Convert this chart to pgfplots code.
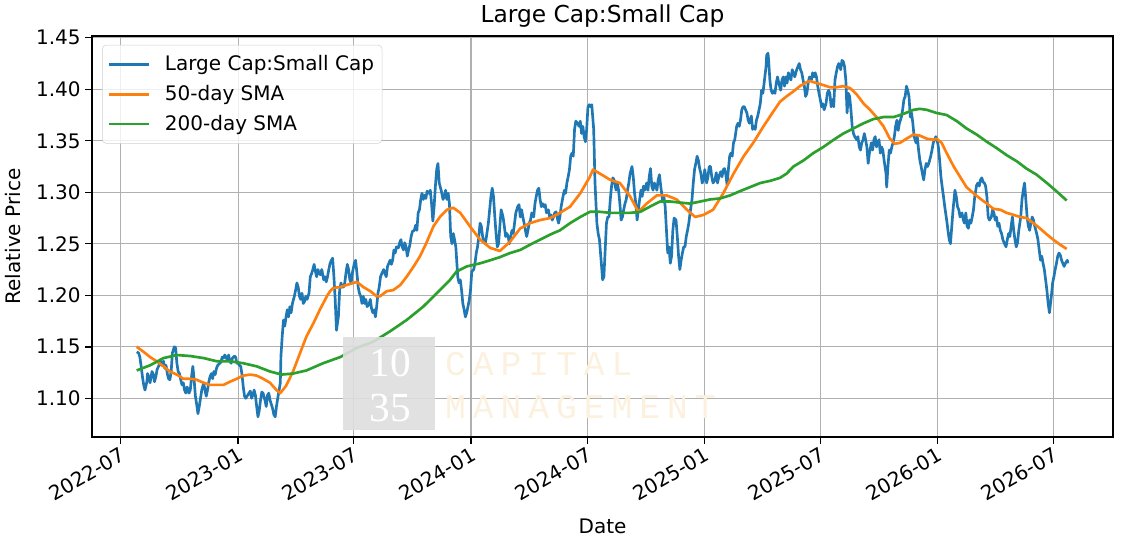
\documentclass[border=0pt]{standalone}
\usepackage{fontspec}
\setmainfont{DejaVu Sans}
\newfontfamily\wmserif{Liberation Serif}
\newfontfamily\wmmono{Liberation Mono}[LetterSpace=20]
\usepackage{pgfplots}
\pgfplotsset{compat=1.18}
\definecolor{mplblue}{HTML}{1F77B4}
\definecolor{mplorange}{HTML}{FF7F0E}
\definecolor{mplgreen}{HTML}{2CA02C}
\definecolor{wmbeige}{RGB}{251,241,222}
\definecolor{gridgray}{HTML}{B0B0B0}
\begin{document}
\begin{tikzpicture}
\begin{axis}[name=ax, scale only axis, width=765.75pt, height=300.75pt,
 xmin=-45, xmax=1554.6, ymin=1.0624, ymax=1.4517,
 xtick={0,184,365,549,731,915,1096,1280,1461},
 xticklabels={2022-07,2023-01,2023-07,2024-01,2024-07,2025-01,2025-07,2026-01,2026-07},
 ytick={1.10,1.15,1.20,1.25,1.30,1.35,1.40,1.45},
 yticklabel style={/pgf/number format/fixed,/pgf/number format/fixed zerofill,/pgf/number format/precision=2},
 /pgf/number format/assume math mode=true,
 tick label style={font=\fontsize{15}{18}\selectfont},
 xticklabel style={xshift=-0.5pt, rotate=30, anchor=north east, inner sep=1.5pt},
 grid=major, major grid style={color=gridgray, line width=1pt},
 axis line style={line width=1.1pt},
 tick style={line width=1.1pt, color=black},
 major tick length=5pt, tick align=outside, xtick pos=bottom, ytick pos=left,
 title={Large Cap:Small Cap},
 every axis title/.style={font=\fontsize{17.5}{21}\selectfont, at={(axis description cs:0.5,1)}, anchor=center, yshift=15pt},
 xlabel={Date}, ylabel={Relative Price},
 every axis x label/.style={at={(axis description cs:0.5,0)}, anchor=center, yshift=-66.75pt, font=\fontsize{15}{18}\selectfont},
 every axis y label/.style={at={(axis description cs:-0.0774,0.5)}, rotate=90, anchor=center, font=\fontsize{15}{18}\selectfont},
 legend style={at={(rel axis cs:0.0098,0.978)}, anchor=north west, draw=black!18, rounded corners=3pt, fill=white, fill opacity=0.8, text opacity=1, font=\fontsize{15}{18}\selectfont, inner xsep=4pt, inner ysep=6pt, row sep=5.5pt,
  /tikz/every odd column/.append style={column sep=9pt}},
 legend cell align=left,
 legend image code/.code={\draw[#1, line width=2pt] (0pt,0pt) -- (30pt,0pt);},
]
\addplot[mplblue, line width=2pt, line join=round] coordinates {
(25,1.145)(28,1.144)(30,1.140)(32,1.131)(34,1.121)(36,1.113)(38,1.108)(41,1.116)(42,1.124)(44,1.121)(46,1.115)(49,1.126)(51,1.123)(53,1.116)(55,1.121)(57,1.128)(60,1.132)(62,1.137)(64,1.132)(67,1.136)(69,1.129)(71,1.132)(73,1.124)(75,1.119)(77,1.118)(79,1.126)(81,1.144)(84,1.150)(86,1.149)(88,1.134)(90,1.126)(92,1.124)(94,1.118)(96,1.113)(98,1.115)(100,1.108)(102,1.105)(104,1.111)(107,1.105)(109,1.108)(111,1.121)(113,1.131)(115,1.118)(117,1.102)(119,1.094)(121,1.085)(123,1.092)(125,1.100)(127,1.108)(130,1.115)(132,1.108)(134,1.102)(136,1.108)(138,1.116)(140,1.121)(142,1.124)(144,1.119)(146,1.126)(148,1.123)(150,1.129)(152,1.132)(155,1.134)(157,1.135)(159,1.140)(161,1.139)(163,1.142)(165,1.140)(167,1.137)(169,1.142)(171,1.136)(173,1.134)(175,1.139)(178,1.141)(180,1.140)(182,1.134)(184,1.134)(186,1.132)(188,1.131)(190,1.123)(192,1.111)(194,1.102)(196,1.100)(198,1.102)(201,1.105)(203,1.107)(205,1.100)(207,1.103)(209,1.108)(211,1.103)(213,1.092)(215,1.082)(217,1.088)(219,1.098)(221,1.106)(223,1.105)(226,1.098)(228,1.092)(230,1.103)(232,1.105)(234,1.098)(236,1.094)(238,1.090)(240,1.084)(242,1.082)(244,1.092)(246,1.100)(249,1.111)
(250,1.115)(251,1.141)(253,1.160)(255,1.176)(257,1.170)(259,1.179)(261,1.186)(263,1.179)(265,1.189)(267,1.183)(269,1.192)(272,1.199)(274,1.205)(276,1.212)(278,1.208)(280,1.199)(282,1.196)(284,1.202)(286,1.192)(288,1.194)(290,1.199)(292,1.196)(295,1.202)(297,1.218)(299,1.221)(301,1.225)(303,1.230)(305,1.223)(307,1.218)(309,1.225)(311,1.221)(313,1.220)(315,1.225)(318,1.215)(320,1.218)(322,1.213)(324,1.218)(326,1.225)(328,1.231)(330,1.234)(332,1.236)(334,1.218)(336,1.196)(338,1.166)(341,1.179)(343,1.205)(345,1.212)(347,1.208)(349,1.208)(351,1.212)(353,1.222)(355,1.230)(357,1.225)(359,1.215)(361,1.212)(363,1.222)(366,1.231)(368,1.234)(370,1.222)(372,1.208)(374,1.202)(376,1.199)(378,1.192)(380,1.199)(382,1.192)(384,1.196)(386,1.189)(389,1.191)(391,1.196)(393,1.187)(395,1.183)(397,1.186)(399,1.179)(401,1.189)(403,1.202)(405,1.208)(407,1.218)(409,1.221)(412,1.225)(414,1.221)(416,1.218)(418,1.228)(420,1.231)(422,1.234)(424,1.230)(426,1.234)(428,1.244)(430,1.241)(432,1.247)(435,1.246)(437,1.251)(439,1.254)(441,1.247)(443,1.244)(445,1.251)(447,1.247)(449,1.238)(451,1.244)(453,1.249)(455,1.257)(457,1.262)(460,1.263)(462,1.268)(464,1.263)(466,1.280)(468,1.283)(470,1.293)(472,1.299)(474,1.293)(476,1.297)(478,1.294)(480,1.301)(483,1.299)(485,1.302)(487,1.289)(489,1.272)(491,1.286)(493,1.306)(495,1.322)(497,1.328)(499,1.309)
(502,1.302)(505,1.293)(507,1.296)(509,1.302)(511,1.293)(513,1.299)(515,1.289)(517,1.257)(519,1.250)(521,1.260)(523,1.254)(525,1.247)(528,1.218)(530,1.212)(532,1.215)(534,1.205)(536,1.192)(538,1.186)(540,1.179)(542,1.183)(544,1.189)(546,1.195)(548,1.205)(550,1.223)(553,1.225)(555,1.231)(557,1.241)(559,1.247)(561,1.257)(563,1.270)(565,1.267)(567,1.257)(569,1.252)(571,1.250)(573,1.257)(576,1.270)(578,1.283)(580,1.296)(582,1.304)(584,1.296)(586,1.277)(588,1.260)(590,1.247)(592,1.250)(594,1.267)(596,1.283)(599,1.276)(601,1.267)(603,1.257)(605,1.260)(607,1.257)(609,1.250)(611,1.257)(613,1.263)(615,1.260)(617,1.270)(619,1.280)(622,1.286)(624,1.288)(626,1.276)(628,1.283)(630,1.276)(632,1.270)(634,1.263)(636,1.257)(638,1.263)(640,1.270)(642,1.273)(644,1.280)(647,1.276)(649,1.289)(651,1.296)(653,1.302)(655,1.304)(657,1.293)(659,1.286)(661,1.289)(663,1.286)(665,1.288)(667,1.280)(670,1.283)(672,1.276)(674,1.278)(676,1.273)(678,1.276)(680,1.280)(682,1.281)(684,1.275)(686,1.270)(688,1.276)(690,1.286)(693,1.296)(695,1.302)(697,1.299)(699,1.309)(701,1.315)(703,1.322)(705,1.335)(707,1.338)(709,1.335)(711,1.361)(713,1.369)(716,1.367)(718,1.364)(720,1.369)(722,1.357)(724,1.364)(726,1.354)(728,1.349)(730,1.361)(732,1.383)(734,1.385)(736,1.383)(738,1.385)(741,1.361)
(743,1.310)(746,1.270)(748,1.260)(750,1.254)(753,1.231)(755,1.215)(757,1.218)(759,1.244)(761,1.270)(763,1.276)(765,1.276)(767,1.293)(769,1.306)(771,1.314)(773,1.312)(776,1.302)(778,1.309)(780,1.302)(782,1.289)(784,1.273)(786,1.276)(788,1.283)(790,1.289)(792,1.293)(794,1.302)(796,1.309)(798,1.318)(801,1.325)(803,1.315)(805,1.299)(807,1.289)(809,1.273)(811,1.283)(813,1.293)(815,1.302)(817,1.296)(819,1.306)(821,1.302)(824,1.309)(826,1.302)(828,1.315)(830,1.323)(832,1.306)(834,1.302)(836,1.309)(838,1.306)(840,1.302)(842,1.312)(844,1.317)(846,1.306)(849,1.292)(851,1.296)(853,1.286)(855,1.263)(857,1.241)(859,1.247)(861,1.231)(863,1.238)(865,1.263)(867,1.275)(870,1.273)(872,1.257)(874,1.238)(876,1.225)(878,1.234)(880,1.241)(882,1.247)(884,1.247)(886,1.257)(888,1.263)(890,1.270)(892,1.280)(895,1.293)(897,1.309)(899,1.322)(901,1.328)(903,1.335)(905,1.331)(907,1.323)(909,1.318)(911,1.309)(913,1.312)(915,1.322)(918,1.309)(920,1.315)(922,1.325)(924,1.325)(926,1.315)(928,1.309)
(931,1.312)(933,1.319)(935,1.309)(937,1.315)(940,1.320)(942,1.315)(944,1.322)(946,1.323)(948,1.317)(950,1.307)(952,1.322)(954,1.335)(956,1.338)(958,1.335)(960,1.348)(962,1.351)(965,1.364)(967,1.367)(969,1.364)(971,1.370)(973,1.380)(975,1.383)(977,1.383)(979,1.380)(981,1.377)(983,1.370)(985,1.367)(988,1.374)(990,1.361)(992,1.364)(994,1.361)(996,1.370)(998,1.374)(1000,1.380)(1002,1.386)(1004,1.399)(1006,1.396)(1008,1.406)(1011,1.422)(1012,1.433)(1014,1.435)(1015,1.429)(1017,1.409)(1019,1.399)(1021,1.396)(1023,1.398)(1025,1.396)(1027,1.406)(1029,1.412)(1031,1.406)(1034,1.399)(1036,1.409)(1038,1.412)(1040,1.403)(1042,1.412)(1044,1.406)(1046,1.416)(1048,1.412)(1050,1.409)(1052,1.419)(1054,1.416)(1056,1.412)(1059,1.419)(1061,1.422)(1063,1.425)(1065,1.419)(1067,1.416)(1069,1.409)(1071,1.403)(1073,1.393)(1075,1.396)(1077,1.406)(1079,1.412)(1082,1.409)(1084,1.416)(1086,1.412)(1088,1.416)(1090,1.412)(1092,1.403)(1094,1.396)(1096,1.390)(1098,1.383)(1100,1.386)(1102,1.380)(1105,1.386)(1107,1.396)(1109,1.399)(1111,1.396)(1113,1.383)(1115,1.390)(1117,1.383)
(1119,1.409)(1121,1.416)(1123,1.422)(1125,1.425)(1128,1.419)(1130,1.428)(1132,1.427)(1134,1.422)(1136,1.409)(1138,1.377)(1140,1.396)(1142,1.393)(1144,1.380)(1146,1.364)(1148,1.357)(1150,1.354)(1153,1.351)(1155,1.354)(1157,1.344)(1159,1.341)(1161,1.348)(1163,1.351)(1165,1.357)(1167,1.351)(1169,1.344)(1171,1.328)(1173,1.338)(1176,1.348)(1178,1.341)(1180,1.351)(1182,1.354)(1184,1.344)(1186,1.348)(1188,1.351)(1190,1.338)(1192,1.344)(1194,1.341)(1196,1.331)(1199,1.318)(1200,1.305)(1202,1.325)(1204,1.341)(1206,1.338)(1208,1.344)(1210,1.348)(1212,1.354)(1214,1.364)(1216,1.370)(1218,1.360)(1220,1.367)(1223,1.373)(1225,1.380)(1227,1.390)(1229,1.393)(1231,1.403)(1233,1.399)(1235,1.393)(1237,1.373)(1239,1.377)(1241,1.367)(1243,1.354)(1246,1.348)(1248,1.354)(1250,1.341)(1252,1.331)(1254,1.325)(1256,1.318)(1258,1.312)(1260,1.322)(1262,1.328)(1264,1.325)(1266,1.328)(1269,1.335)(1271,1.341)(1273,1.348)(1275,1.351)(1277,1.354)(1279,1.351)(1281,1.344)(1283,1.331)(1285,1.315)(1287,1.305)(1289,1.296)(1291,1.286)(1294,1.273)(1296,1.263)(1298,1.254)(1300,1.250)(1302,1.267)(1304,1.283)(1306,1.296)
(1307,1.302)(1309,1.296)(1311,1.286)(1313,1.283)(1315,1.276)(1318,1.280)(1320,1.273)(1322,1.270)(1324,1.280)(1326,1.267)(1328,1.265)(1330,1.273)(1332,1.270)(1334,1.276)(1336,1.283)(1338,1.296)(1341,1.307)(1343,1.309)(1345,1.306)(1347,1.312)(1349,1.314)(1351,1.310)(1353,1.309)(1355,1.306)(1357,1.296)(1359,1.276)(1361,1.273)(1364,1.276)(1366,1.283)(1368,1.280)(1370,1.273)(1372,1.276)(1374,1.267)(1376,1.270)(1378,1.263)(1380,1.260)(1382,1.254)(1384,1.251)(1387,1.247)(1389,1.254)(1391,1.260)(1393,1.257)(1395,1.267)(1397,1.276)(1399,1.263)(1401,1.254)(1403,1.247)(1405,1.251)(1407,1.263)(1410,1.276)(1412,1.293)(1414,1.302)(1416,1.309)(1418,1.293)(1420,1.276)(1422,1.267)(1424,1.263)(1426,1.270)(1428,1.276)(1430,1.273)(1432,1.267)(1435,1.260)(1437,1.254)(1439,1.244)(1441,1.234)(1443,1.238)(1445,1.231)(1447,1.225)(1449,1.215)(1451,1.205)(1453,1.192)(1455,1.183)(1458,1.199)(1460,1.212)(1462,1.218)(1464,1.225)(1466,1.231)(1468,1.238)(1470,1.241)(1472,1.239)(1474,1.234)(1476,1.231)(1478,1.228)(1480,1.231)(1483,1.234)(1484,1.231)
};
\addlegendentry{Large Cap:Small Cap}
\addplot[mplorange, line width=2pt, line join=round] coordinates {
(25,1.150)(36,1.145)(46,1.140)(56,1.136)(67,1.131)(77,1.126)(88,1.123)(98,1.119)(109,1.119)(119,1.118)(130,1.115)(140,1.113)(150,1.113)(161,1.113)(171,1.116)(182,1.119)(192,1.122)(203,1.123)(213,1.122)(223,1.119)(234,1.115)(244,1.108)(250,1.105)(259,1.112)(270,1.126)(281,1.144)(291,1.160)(302,1.173)(312,1.186)(323,1.199)(328,1.204)(333,1.207)(344,1.208)(354,1.210)(365,1.212)(370,1.213)(380,1.208)(391,1.204)(401,1.199)(406,1.199)(417,1.204)(427,1.205)(438,1.210)(448,1.218)(459,1.228)(469,1.238)(479,1.251)(490,1.267)(500,1.276)(511,1.283)(521,1.285)(532,1.280)(547,1.267)(563,1.254)(579,1.246)(594,1.243)(610,1.252)(626,1.265)(641,1.270)(657,1.273)(673,1.275)(688,1.280)(704,1.286)(720,1.299)(735,1.315)(740,1.322)(751,1.318)(767,1.312)(782,1.309)(798,1.296)(811,1.281)(824,1.289)(840,1.297)(855,1.297)(871,1.293)(887,1.283)(900,1.276)(913,1.278)(928,1.283)(944,1.299)(960,1.318)(976,1.335)(991,1.348)(1007,1.364)(1022,1.378)(1033,1.388)(1043,1.393)(1054,1.398)(1064,1.403)(1075,1.407)(1080,1.408)(1090,1.406)(1101,1.404)(1111,1.402)(1122,1.402)(1132,1.403)(1143,1.401)(1153,1.395)(1164,1.386)(1174,1.380)(1184,1.373)(1195,1.364)(1205,1.352)(1213,1.347)(1221,1.348)(1231,1.352)(1242,1.356)(1252,1.355)(1263,1.352)(1273,1.351)(1278,1.352)(1286,1.348)(1294,1.338)(1305,1.325)(1315,1.315)(1325,1.305)(1336,1.299)(1346,1.294)(1357,1.289)(1367,1.284)(1378,1.283)(1388,1.280)(1399,1.278)(1409,1.276)(1419,1.275)(1430,1.270)(1440,1.265)(1451,1.259)(1461,1.254)(1472,1.249)(1482,1.245)
};
\addlegendentry{50-day SMA}
\addplot[mplgreen, line width=2pt, line join=round] coordinates {
(25,1.127)(46,1.132)(67,1.139)(88,1.142)(109,1.141)(130,1.139)(150,1.136)(171,1.136)(192,1.134)(213,1.131)(234,1.126)(252,1.123)(270,1.124)(291,1.127)(317,1.134)(344,1.140)(370,1.149)(396,1.155)(422,1.165)(448,1.176)(474,1.189)(500,1.205)(516,1.215)(526,1.223)(542,1.228)(563,1.231)(579,1.234)(594,1.237)(610,1.241)(626,1.244)(641,1.249)(657,1.254)(673,1.259)(688,1.263)(704,1.270)(720,1.276)(735,1.281)(751,1.281)(767,1.280)(782,1.280)(798,1.280)(814,1.281)(829,1.286)(845,1.291)(861,1.291)(876,1.290)(892,1.289)(908,1.291)(923,1.293)(939,1.294)(955,1.297)(970,1.301)(986,1.305)(1002,1.309)(1017,1.311)(1033,1.314)(1043,1.318)(1054,1.325)(1070,1.331)(1085,1.338)(1101,1.344)(1117,1.351)(1132,1.357)(1148,1.362)(1164,1.367)(1179,1.371)(1195,1.373)(1211,1.373)(1226,1.376)(1242,1.380)(1252,1.381)(1263,1.380)(1278,1.377)(1294,1.375)(1310,1.369)(1325,1.362)(1341,1.356)(1357,1.349)(1372,1.343)(1388,1.336)(1404,1.330)(1419,1.323)(1435,1.317)(1451,1.309)(1466,1.301)(1482,1.292)
};
\addlegendentry{200-day SMA}
\node[fill=black!13, fill opacity=0.9, minimum width=69pt, minimum height=69.75pt, inner sep=0pt] at (axis cs:421,1.1144) {};
\node[text=white, font=\wmserif\fontsize{31}{31}\selectfont, inner sep=0pt] at (axis cs:422,1.1343) {10};
\node[text=white, font=\wmserif\fontsize{31}{31}\selectfont, inner sep=0pt] at (axis cs:422,1.0906) {35};
\node[text=wmbeige, font=\wmmono\fontsize{26}{26}\selectfont, anchor=west, inner sep=0pt] at (axis cs:508,1.1329) {CAPITAL};
\node[text=wmbeige, font=\wmmono\fontsize{26}{26}\selectfont, anchor=west, inner sep=0pt] at (axis cs:508,1.0911) {MANAGEMENT};
\end{axis}
\pgfresetboundingbox
\path[use as bounding box] ([xshift=-69pt,yshift=-81.75pt]ax.south west) rectangle ([xshift=11.25pt,yshift=27pt]ax.north east);
\end{tikzpicture}
\end{document}
